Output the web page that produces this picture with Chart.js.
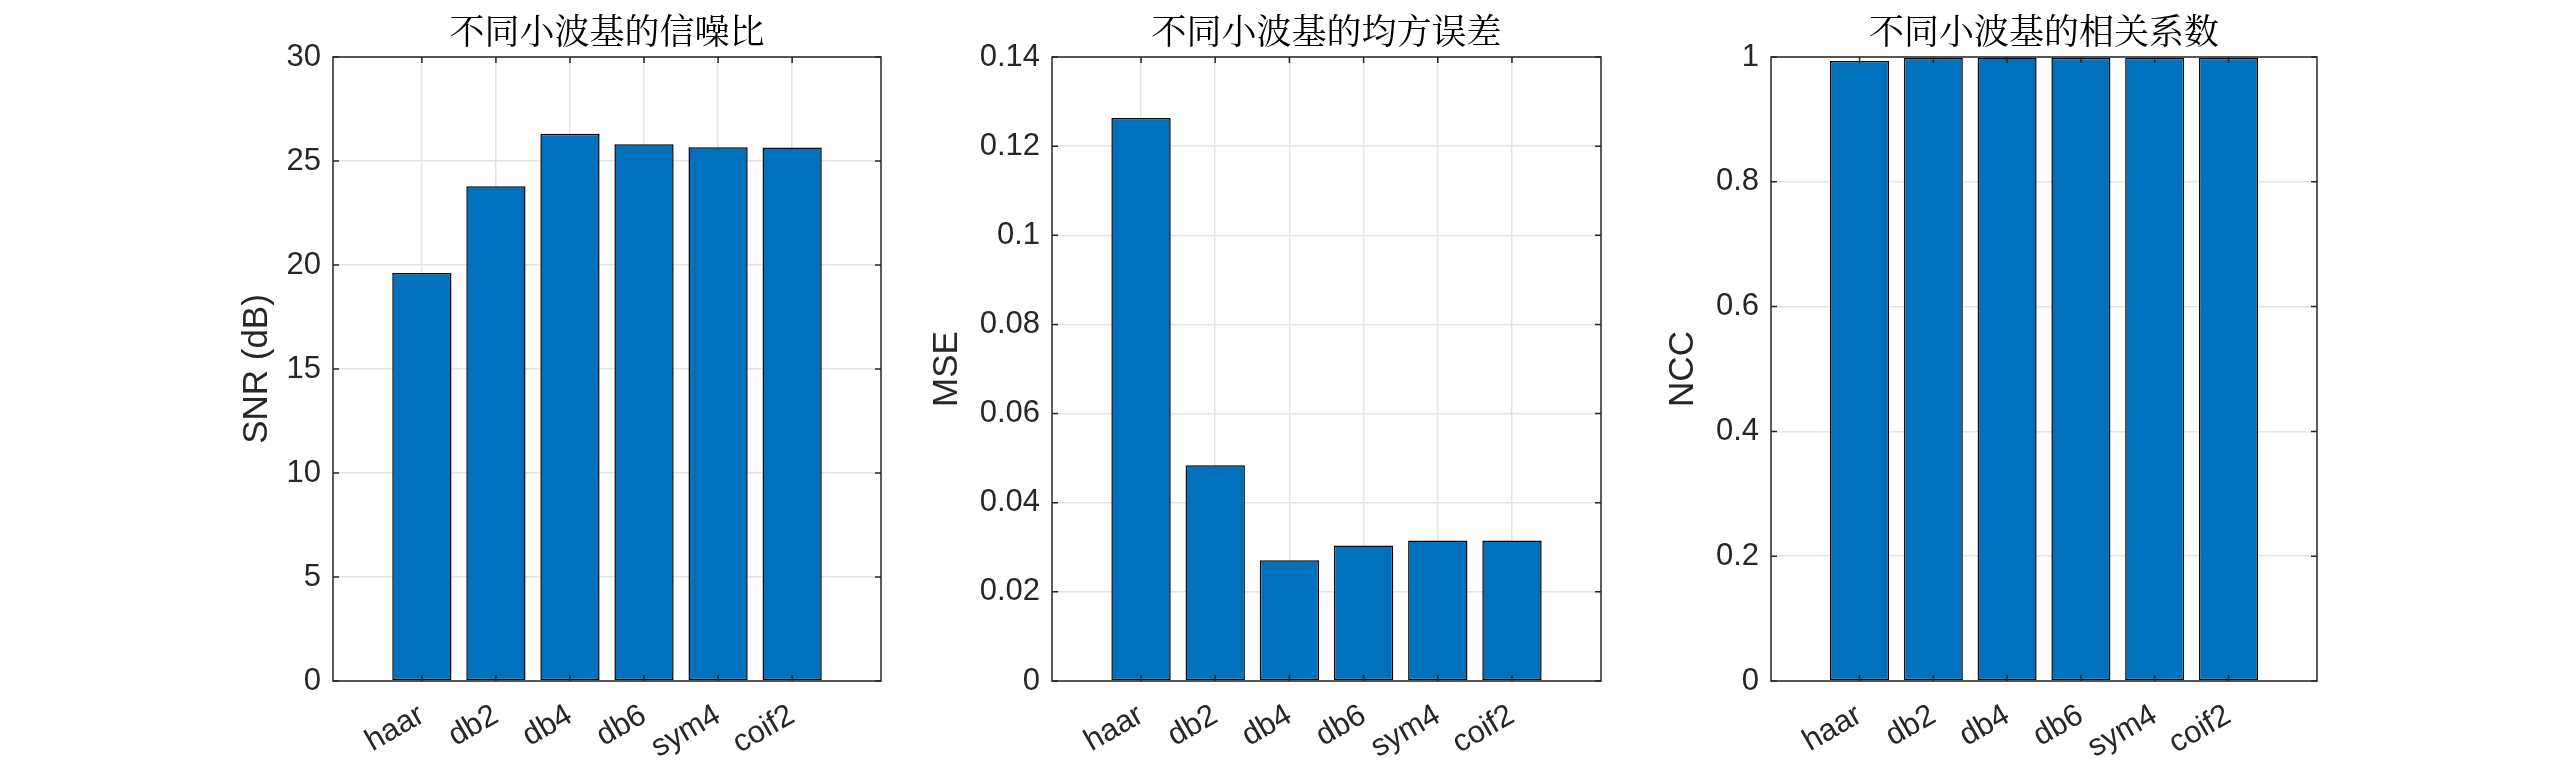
<!DOCTYPE html>
<html>
<head>
<meta charset="utf-8">
<script src="https://cdn.jsdelivr.net/npm/chart.js@4.4.0/dist/chart.umd.min.js"></script>
<style>
    html, body { margin: 0; padding: 0; background: #fff; }
    #wrap { position: relative; width: 2560px; height: 768px; overflow: hidden; }
    .panel { position: absolute; top: 0; height: 768px; }
</style>
</head>
<body>
<div id="wrap">
    <div class="panel" id="p0"><canvas id="c0"></canvas></div>
    <div class="panel" id="p1"><canvas id="c1"></canvas></div>
    <div class="panel" id="p2"><canvas id="c2"></canvas></div>
</div>
<script>
const wavelets = ['haar', 'db2', 'db4', 'db6', 'sym4', 'coif2'];
const snrValues = [19.62, 23.79, 26.31, 25.80, 25.66, 25.65];
const mseValues = [0.1263, 0.0484, 0.0271, 0.0304, 0.0315, 0.0315];
const nccValues = [0.9935, 0.9984, 0.9991, 0.9989, 0.9988, 0.9988];
const chartTitles = ['不同小波基的信噪比', '不同小波基的均方误差', '不同小波基的相关系数'];
const yLabels = ['SNR (dB)', 'MSE', 'NCC'];
const yMax = [30, 0.14, 1];
const yStep = [5, 0.02, 0.2];

const seriesList = [snrValues, mseValues, nccValues];
const axLeft = [333, 1052, 1771];
const axRight = [881, 1601, 2317];
const yLabelPad = [33, 4, 21];
const Y_W = 130;
const RIGHT_PAD = 30;
const AXIS_COLOR = '#262626';
const TICK_FONT = '"Liberation Sans", Arial, sans-serif';

// MATLAB-style box around the axes with inward ticks
const framePlugin = {
    id: 'frame',
    afterDatasetsDraw(chart) {
        const { ctx, chartArea: a, scales: { x, y } } = chart;
        ctx.save();
        ctx.strokeStyle = AXIS_COLOR;
        ctx.lineWidth = 1.5;
        ctx.beginPath();
        x.ticks.forEach(t => {
            const px = x.getPixelForValue(t.value);
            ctx.moveTo(px, a.bottom); ctx.lineTo(px, a.bottom - 6);
            ctx.moveTo(px, a.top); ctx.lineTo(px, a.top + 6);
        });
        y.ticks.forEach(t => {
            const py = y.getPixelForValue(t.value);
            ctx.moveTo(a.left, py); ctx.lineTo(a.left + 6, py);
            ctx.moveTo(a.right, py); ctx.lineTo(a.right - 6, py);
        });
        ctx.stroke();
        ctx.strokeRect(a.left, a.top, a.right - a.left, a.bottom - a.top);
        ctx.restore();
    }
};

function makeChart(i) {
    const width = Y_W + (axRight[i] - axLeft[i]) + RIGHT_PAD;
    const panel = document.getElementById('p' + i);
    panel.style.left = (axLeft[i] - Y_W) + 'px';
    panel.style.width = width + 'px';
    const canvas = document.getElementById('c' + i);
    canvas.width = width;
    canvas.height = 768;

    const points = wavelets.map((w, k) => ({ x: k + 1, y: seriesList[i][k] }));

    return new Chart(canvas.getContext('2d'), {
        type: 'bar',
        data: {
            datasets: [{
                data: points,
                backgroundColor: '#0072BD',
                borderColor: '#000000',
                borderWidth: 1.5,
                borderSkipped: false,
                barPercentage: 0.8,
                categoryPercentage: 1.0
            }]
        },
        plugins: [framePlugin],
        options: {
            responsive: false,
            animation: false,
            layout: { padding: { left: 0, right: RIGHT_PAD, top: 0, bottom: 0 } },
            plugins: {
                legend: { display: false },
                tooltip: { enabled: false },
                title: {
                    display: true,
                    fullSize: false, // centre over the plot box, not the canvas
                    text: chartTitles[i],
                    color: '#000000',
                    font: { family: '"Noto Serif CJK SC", "Noto Sans CJK SC"', size: 35, weight: 'normal' },
                    padding: { top: 10, bottom: 5 }
                }
            },
            scales: {
                x: {
                    type: 'linear',
                    min: -0.2,
                    max: 7.2,
                    offset: false,
                    afterBuildTicks: scale => { scale.ticks = wavelets.map((w, k) => ({ value: k + 1 })); },
                    afterFit: scale => { scale.height = 768 - 681; },
                    border: { display: false },
                    grid: { color: '#e3e3e3', lineWidth: 1.5, drawTicks: false, offset: false },
                    ticks: {
                        autoSkip: false,
                        minRotation: 30,
                        maxRotation: 30,
                        padding: 16,
                        color: AXIS_COLOR,
                        font: { family: TICK_FONT, size: 31 },
                        callback: v => wavelets[v - 1]
                    }
                },
                y: {
                    min: 0,
                    max: yMax[i],
                    afterFit: scale => { scale.width = Y_W; },
                    border: { display: false },
                    grid: { color: '#e3e3e3', lineWidth: 1.5, drawTicks: false },
                    ticks: {
                        stepSize: yStep[i],
                        padding: 12,
                        color: AXIS_COLOR,
                        font: { family: TICK_FONT, size: 31 },
                        callback: v => String(Number(v.toFixed(4)))
                    },
                    title: {
                        display: true,
                        text: yLabels[i],
                        color: AXIS_COLOR,
                        font: { family: TICK_FONT, size: 35 },
                        padding: { top: yLabelPad[i], bottom: 0 }
                    }
                }
            }
        }
    });
}

[0, 1, 2].forEach(makeChart);
</script>
</body>
</html>
